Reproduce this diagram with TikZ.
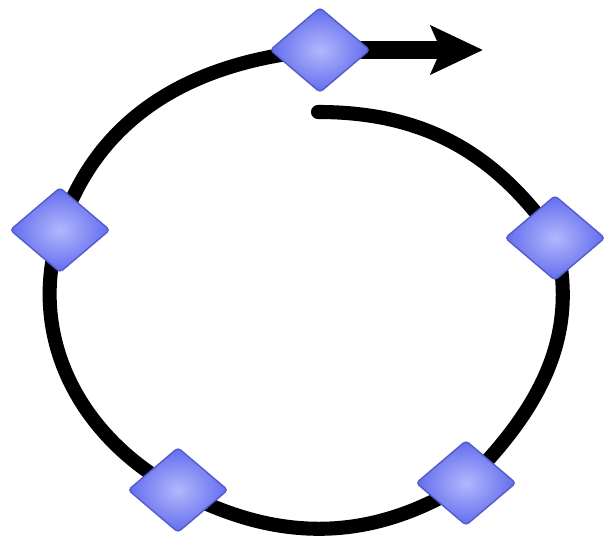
\documentclass[tikz,border=0pt]{standalone}
\usetikzlibrary{shapes.geometric,arrows.meta}
\pgfdeclarelayer{back}
\pgfsetlayers{back,main}
\definecolor{gemblue}{RGB}{98,108,238}
\definecolor{gemlight}{RGB}{178,184,252}

\begin{document}
\begin{tikzpicture}[
			gem/.style={diamond, minimum width=1cm, minimum height=0.85cm, inner sep=0pt, rounded corners=1pt,
				draw=gemblue!85!black, line width=0.4pt, inner color=gemlight, outer color=gemblue},
			ring/.style={line width=4pt, line cap=round},
			arrow/.style={line width=5pt, -{Stealth[length=5.2mm, width=4.8mm, inset=1mm]}}]
			
			\useasboundingbox (0,0) rectangle (6.06,5.43);
			
			\node[gem] (top) at (3.20,4.93) {};
			\node[gem] (right) at (5.55,3.05) {};
			\node[gem] (btmright) at (4.66,0.60) {};
			\node[gem] (btmleft) at (1.78,0.53) {};
			\node[gem] (left) at (0.60,3.13) {};
			
			\coordinate (start) at (3.18,4.31);
			\coordinate (tip) at (4.83,4.93);
			
			\begin{pgfonlayer}{back}
				\draw[ring] (start) to[out=0,in=125] (right.center)
					to[out=-75,in=45] (btmright.center)
					to[out=-148,in=-28] (btmleft.center)
					to[out=152,in=-108] (left.center)
					to[out=72,in=185] (top.center);
				\draw[arrow] (top.center) -- (tip);
			\end{pgfonlayer}
			
		\end{tikzpicture}
\end{document}
